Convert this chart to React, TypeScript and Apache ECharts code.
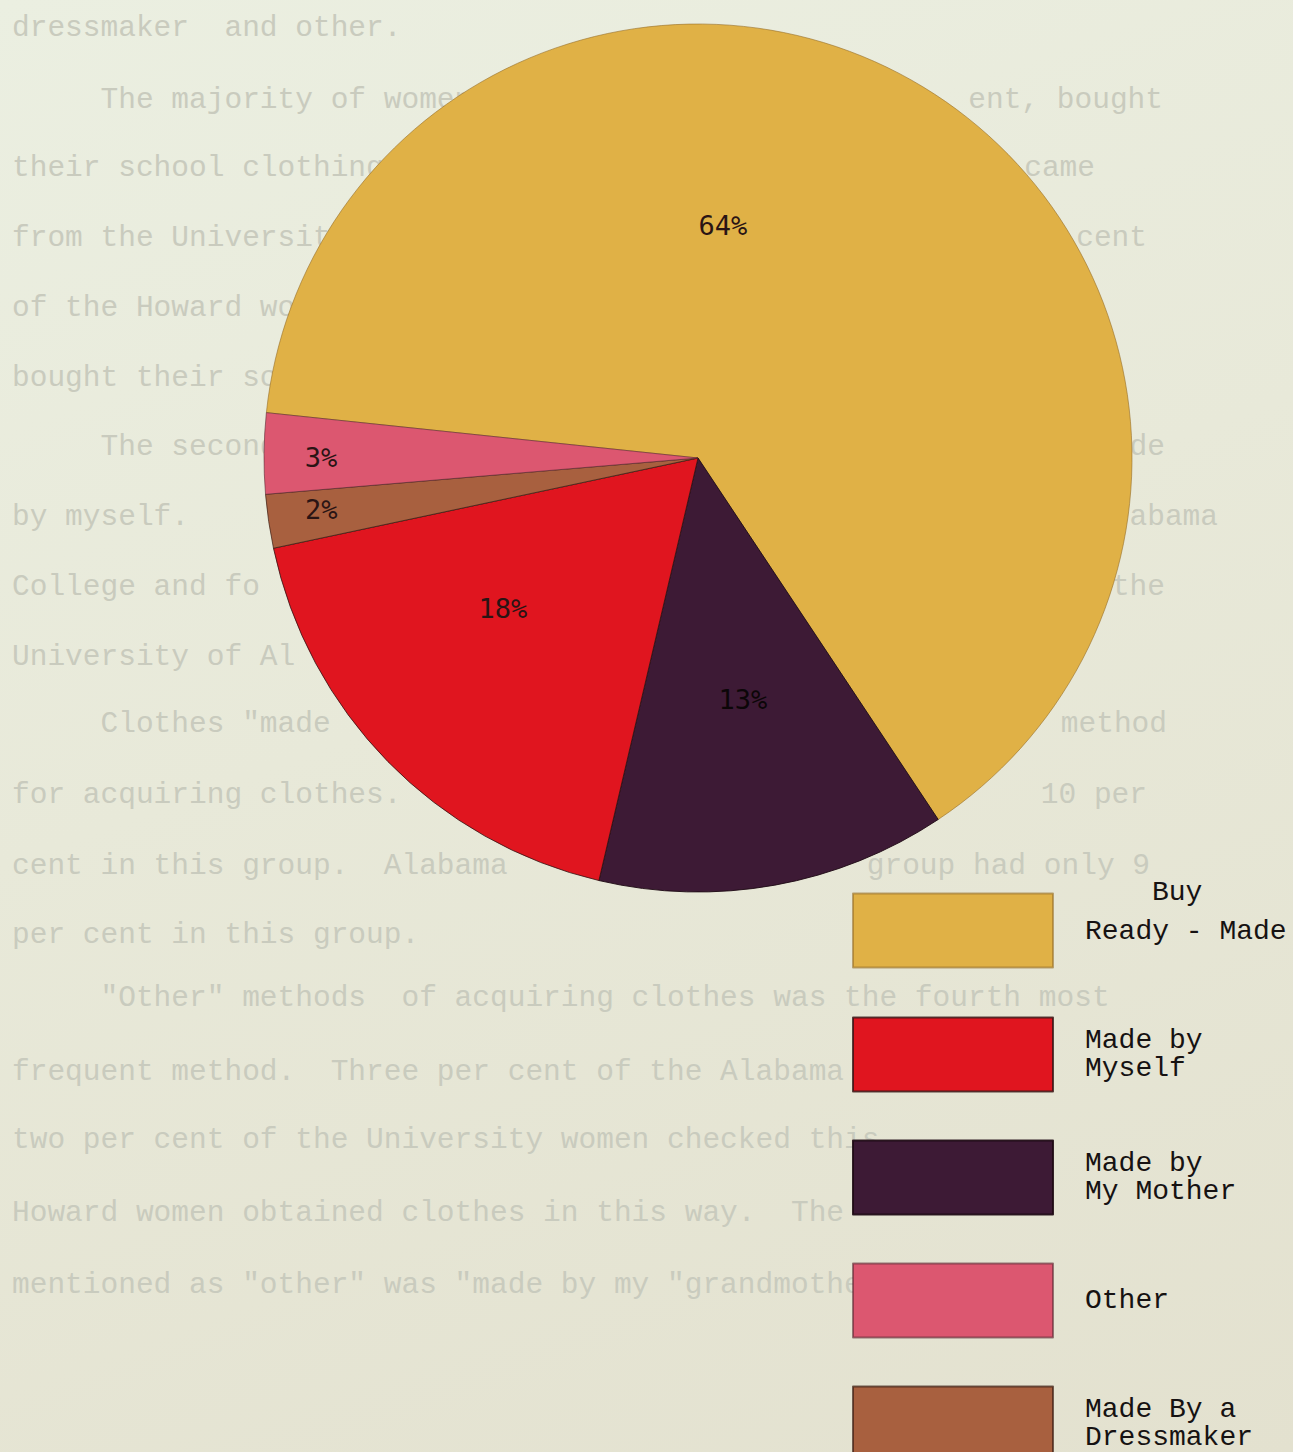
import React, { useEffect, useRef } from "react";
import * as echarts from "echarts";

// ---- data ----
const categories = ["Buy Ready - Made", "Made by My Mother", "Made by Myself", "Made By a Dressmaker", "Other"];
const values = [64, 13, 18, 2, 3];
const legendOrder = ["Buy Ready - Made", "Made by Myself", "Made by My Mother", "Other", "Made By a Dressmaker"];
const legendLines: Record<string, string[]> = {
  "Buy Ready - Made": ["Buy", "Ready - Made"],
  "Made by Myself": ["Made by", "Myself"],
  "Made by My Mother": ["Made by", "My Mother"],
  "Other": ["Other"],
  "Made By a Dressmaker": ["Made By a", "Dressmaker"],
};

// faint typed page text showing through (left fragments / right fragments)
const pageTextLeft = [
  "dressmaker  and other.",
  "     The majority of women",
  "their school clothing",
  "from the University",
  "of the Howard women",
  "bought their school",
  "     The second",
  "by myself.",
  "College and fo",
  "University of Al",
  "     Clothes \"made",
  "for acquiring clothes.",
  "cent in this group.  Alabama",
  "per cent in this group.",
  "     \"Other\" methods  of acquiring clothes was the fourth most",
  "frequent method.  Three per cent of the Alabama",
  "two per cent of the University women checked this",
  "Howard women obtained clothes in this way.  The",
  "mentioned as \"other\" was \"made by my \"grandmothe",
];
const pageTextRight = ["", "ent, bought", "came", "cent", "", "", "de", "abama", "the", "", "method", "10 per", "group had only 9", "", "", "", "", "", ""];

// ---- styles / layout ----
const colors = ["#e0b146", "#3d1a35", "#e0151f", "#a8603f", "#dc5770"];
const borderColors = ["rgba(150,110,40,0.6)", "rgba(30,10,20,0.9)", "rgba(50,20,20,0.8)", "rgba(60,30,20,0.7)", "rgba(90,40,50,0.6)"];
const labelOffsets = [[-89, -44], [6, 25], [-38, -3], [-159, 19], [-157, 2]];
const lineYs = [28, 100, 168, 238, 308, 378, 447, 517, 587, 657, 724, 795, 866, 935, 998, 1072, 1140, 1213, 1285];
const rightEnds = [0, 1163, 1095, 1147, 0, 0, 1165, 1218, 1165, 0, 1167, 1147, 1150, 0, 0, 0, 0, 0, 0];

export default function App() {
  const ref = useRef<HTMLDivElement>(null);
  useEffect(() => {
    document.body.style.margin = "0";
    const chart = echarts.init(ref.current!, undefined, { renderer: "svg" });
    const bgText: any[] = [];
    const bgStyle = { fontFamily: "Liberation Mono", fontSize: 29.5, fill: "#c9cbbe", verticalAlign: "middle" };
    pageTextLeft.forEach((t, i) => {
      bgText.push({
        type: "text",
        x: 12,
        y: lineYs[i],
        z: 0,
        style: { ...bgStyle, text: t, align: "left" },
      });
      if (pageTextRight[i]) {
        bgText.push({
          type: "text",
          x: rightEnds[i],
          y: lineYs[i],
          z: 0,
          style: { ...bgStyle, text: pageTextRight[i], align: "right" },
        });
      }
    });

    const legendRich = {
      b: { fontFamily: "Liberation Mono", fontSize: 28, lineHeight: 39, padding: [0, 0, 0, 67], color: "#161212" },
      r: { fontFamily: "Liberation Mono", fontSize: 28, lineHeight: 39, color: "#161212" },
    };

    chart.setOption({
      animation: false,
      backgroundColor: "transparent",
      graphic: bgText,
      legend: {
        orient: "vertical",
        left: 852,
        top: 878,
        height: 600,
        padding: 0,
        itemWidth: 200,
        itemHeight: 74,
        itemGap: 47,
        icon: "rect",
        selectedMode: false,
        data: legendOrder.map((n, i) =>
          i === 0 ? { name: n, textStyle: { padding: [-19, 0, 19, 27] } } : { name: n }
        ),
        formatter: (name: string) => {
          const lines = legendLines[name] || [name];
          if (name === "Buy Ready - Made") return "{b|" + lines[0] + "}\n{r|" + lines[1] + "}";
          return lines.join("\n");
        },
        textStyle: {
          fontFamily: "Liberation Mono",
          fontSize: 28,
          lineHeight: 28,
          color: "#161212",
          padding: [0, 0, 0, 27],
          rich: legendRich,
        },
      },
      series: [
        {
          type: "pie",
          center: [698, 458],
          radius: 434,
          startAngle: 174,
          clockwise: true,
          avoidLabelOverlap: false,
          emphasis: { disabled: true },
          labelLine: { show: false },
          label: {
            show: true,
            position: "inside",
            formatter: (p: any) => p.value + "%",
            fontFamily: "DejaVu Sans Mono",
            fontSize: 27,
            color: "#2a1414",
          },
          data: categories.map((c, i) => ({
            name: c,
            value: values[i],
            itemStyle: { color: colors[i], borderColor: borderColors[i], borderWidth: 1 },
            label: { offset: labelOffsets[i], color: i === 1 ? "#0c0608" : "#2a1414" },
          })),
        },
      ],
    });
    return () => chart.dispose();
  }, []);
  return (
    <div
      ref={ref}
      style={{
        width: 1293,
        height: 1452,
        background: "linear-gradient(160deg, #ebefe1 0%, #e8e9d9 45%, #e3e1cf 100%)",
      }}
    />
  );
}
